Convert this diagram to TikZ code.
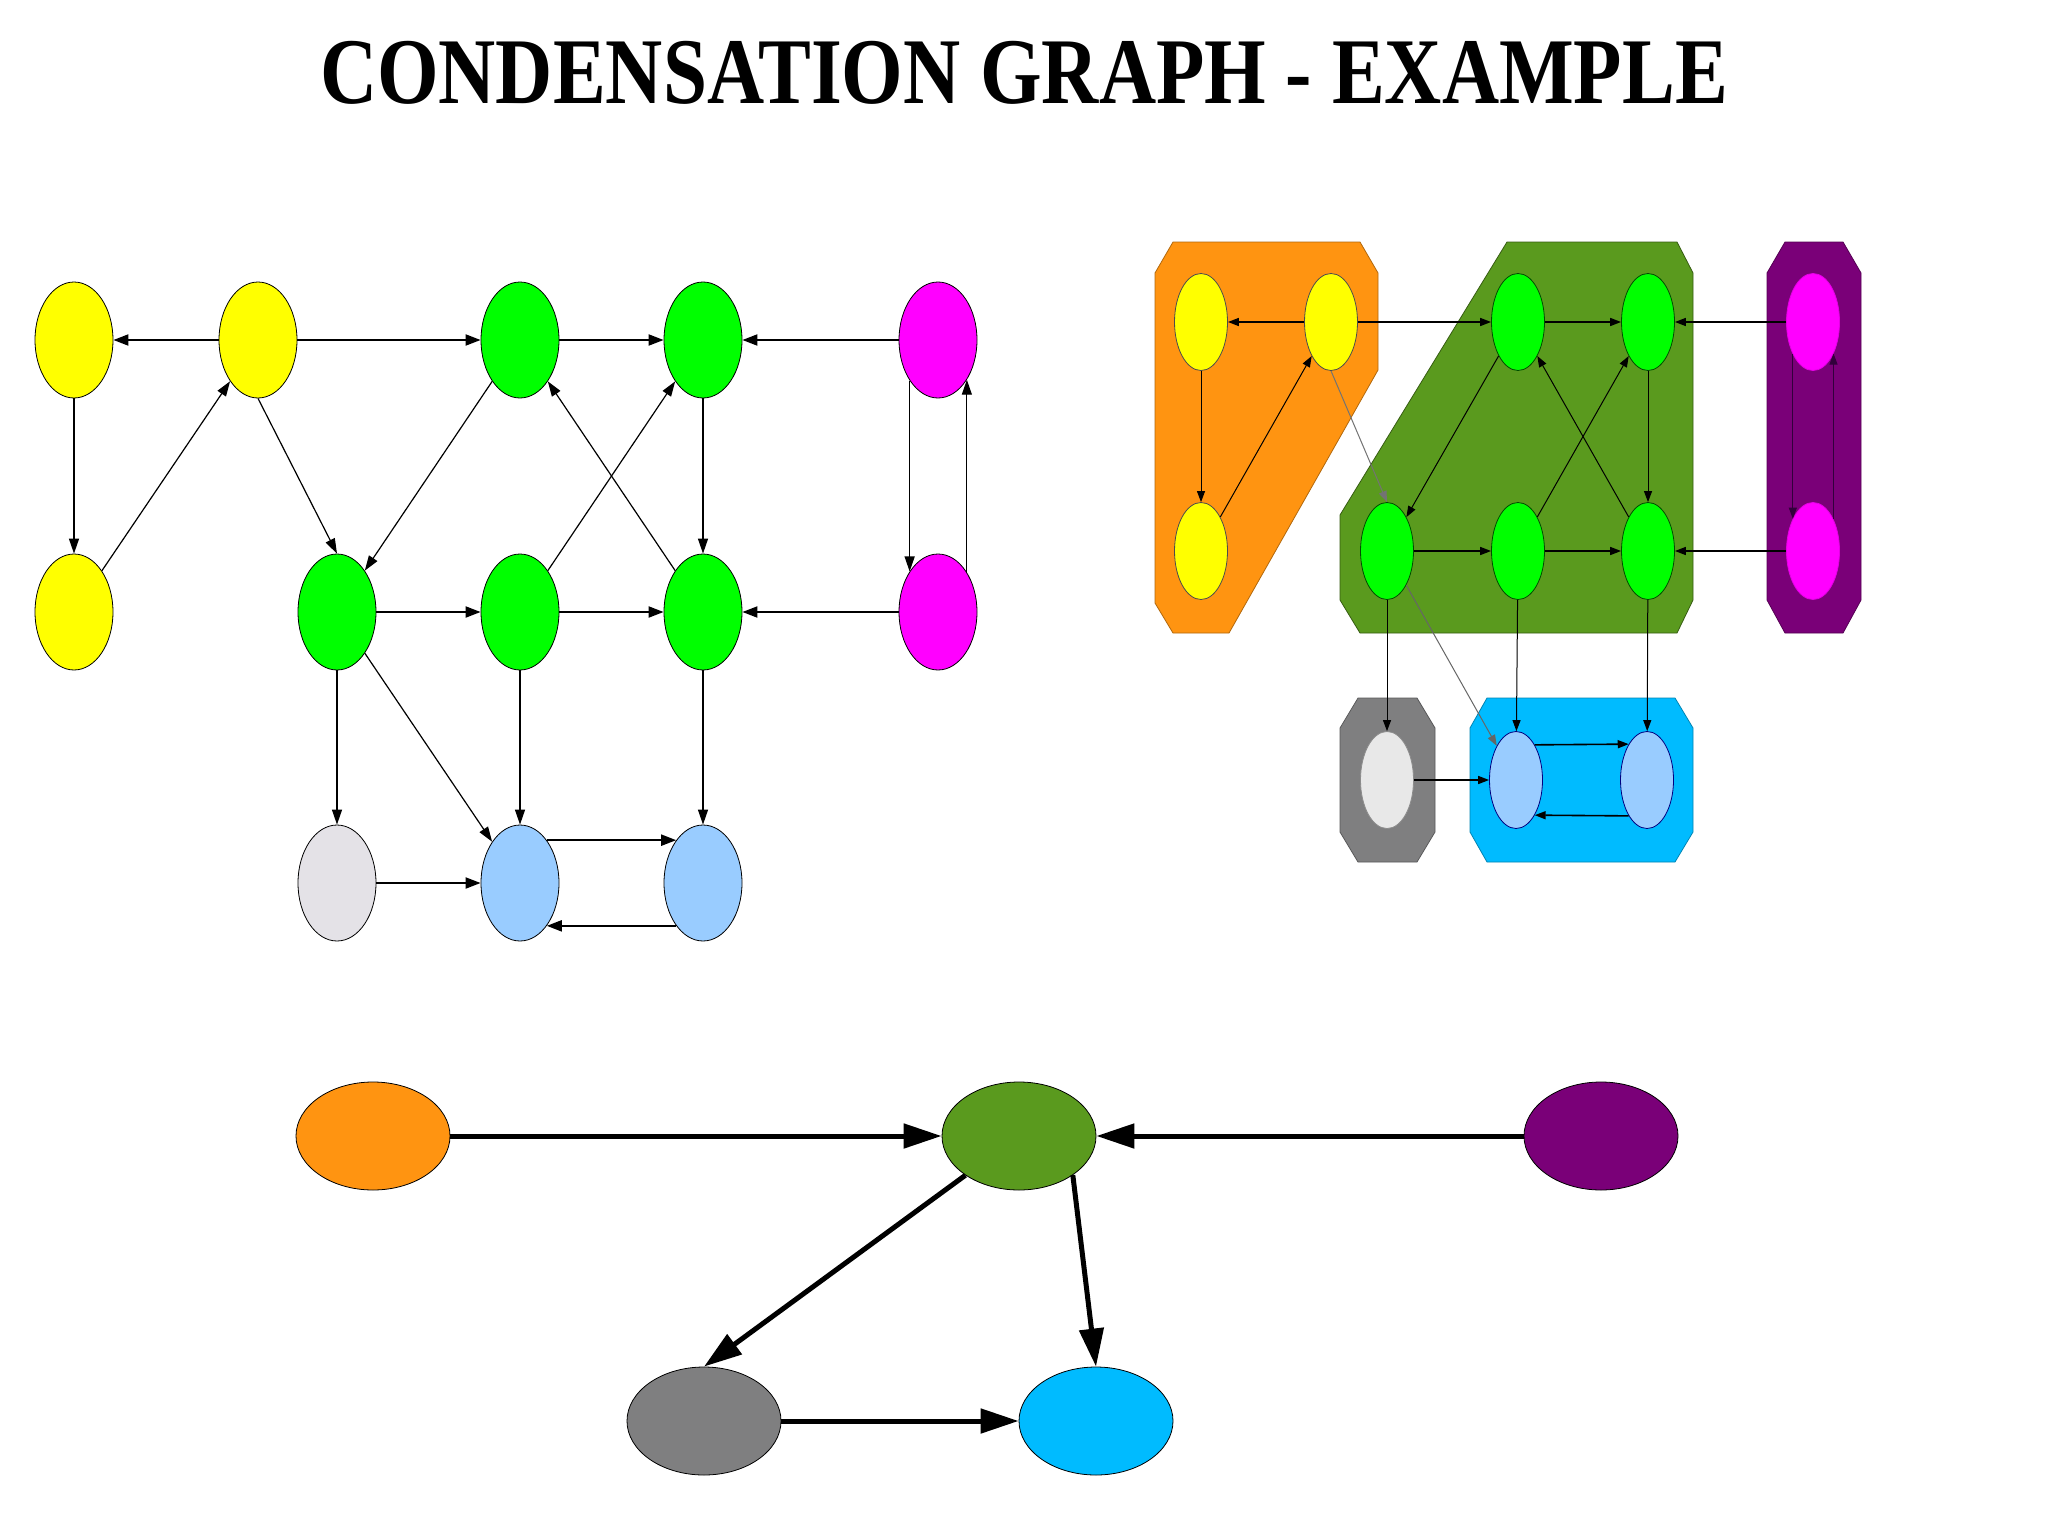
\documentclass[tikz,border=0pt]{standalone}
\usepackage{fontspec}
\usepackage{graphicx}
\setmainfont{Liberation Serif}
\usetikzlibrary{arrows.meta,shapes.geometric}
\definecolor{cyel}{RGB}{255,255,0}
\definecolor{cgrn}{RGB}{0,255,0}
\definecolor{cmag}{RGB}{255,0,255}
\definecolor{clgr}{RGB}{228,226,231}
\definecolor{clbl}{RGB}{153,204,255}
\definecolor{corg}{RGB}{255,148,17}
\definecolor{cdgr}{RGB}{90,154,30}
\definecolor{cpur}{RGB}{122,0,120}
\definecolor{cgry}{RGB}{127,127,128}
\definecolor{csky}{RGB}{0,187,255}
\definecolor{cpln}{RGB}{50,0,60}
\tikzset{
  lnode/.style={ellipse, draw=black, line width=0.8pt, inner sep=0pt, minimum width=78pt, minimum height=116pt},
  rnode/.style={ellipse, line width=0.8pt, inner sep=0pt, minimum width=53pt, minimum height=97pt},
  bnode/.style={ellipse, draw=black, line width=0.8pt, inner sep=0pt, minimum width=154pt, minimum height=108pt},
  ledge/.style={-{Triangle[length=15pt,width=10pt]}, line width=1.2pt},
  ledgeh/.style={-{Triangle[length=15pt,width=11pt]}, line width=2pt},
  redge/.style={-{Triangle[length=11pt,width=8pt]}, line width=1pt},
  redgeh/.style={-{Triangle[length=11pt,width=8pt]}, line width=1.6pt},
  bedge/.style={-{Triangle[length=38pt,width=24pt]}, line width=5pt},
  clus/.style={line width=0.8pt},
}
\begin{document}
\begin{tikzpicture}[x=1pt,y=-1pt]
\useasboundingbox[fill=white] (0,0) rectangle (2048,1536);
% title
\node[anchor=base, inner sep=0pt] (title) at (1024,104) {\scalebox{0.842}[1]{\fontsize{94}{94}\selectfont\bfseries CONDENSATION GRAPH - EXAMPLE}};

% ---------------- left graph ----------------
\node[lnode, fill=cyel] (lY1) at (74,340) {};
\node[lnode, fill=cyel] (lY2) at (258,340) {};
\node[lnode, fill=cgrn] (lG1) at (520,340) {};
\node[lnode, fill=cgrn] (lG2) at (703,340) {};
\node[lnode, fill=cmag] (lM1) at (938,340) {};
\node[lnode, fill=cyel] (lY3) at (74,612) {};
\node[lnode, fill=cgrn] (lG4) at (337,612) {};
\node[lnode, fill=cgrn] (lG5) at (520,612) {};
\node[lnode, fill=cgrn] (lG6) at (703,612) {};
\node[lnode, fill=cmag] (lM2) at (938,612) {};
\node[lnode, fill=clgr] (lGR) at (337,883) {};
\node[lnode, fill=clbl] (lB1) at (520,883) {};
\node[lnode, fill=clbl] (lB2) at (703,883) {};

\draw[ledgeh] (lY2) -- (lY1);
\draw[ledgeh] (lY2) -- (lG1);
\draw[ledgeh] (lG1) -- (lG2);
\draw[ledgeh] (lM1) -- (lG2);
\draw[ledge] (lY1) -- (lY3);
\draw[ledge] (lY3) -- (lY2);
\draw[ledge] (lY2.south) -- (lG4.north);
\draw[ledge] (lG1) -- (lG4);
\draw[ledge] (lG5) -- (lG2);
\draw[ledge] (lG6) -- (lG1);
\draw[ledge] (lG2) -- (lG6);
\draw[ledge] (lM1.-125.7) -- (lM2.125.7);
\draw[ledge] (lM2.54.3) -- (lM1.-54.3);
\draw[ledgeh] (lG4) -- (lG5);
\draw[ledgeh] (lG5) -- (lG6);
\draw[ledgeh] (lM2) -- (lG6);
\draw[ledge] (lG4) -- (lGR);
\draw[ledge] (lG4) -- (lB1);
\draw[ledge] (lG5) -- (lB1);
\draw[ledge] (lG6) -- (lB2);
\draw[ledgeh] (lGR) -- (lB1);
\draw[ledgeh] (lB1.58) -- (lB2.122);
\draw[ledgeh] (lB2.-122) -- (lB1.-58);

% ---------------- right graph: clusters ----------------
\fill[corg, draw=corg!70!black, clus] (1173,242) -- (1360,242) -- (1378,273) -- (1378,370) -- (1229,633) -- (1173,633) -- (1155,603) -- (1155,273) -- cycle;
\fill[cdgr, draw=cdgr!60!black, clus] (1507,242) -- (1677,242) -- (1693,273) -- (1693,600) -- (1677,633) -- (1360,633) -- (1340,600) -- (1340,515) -- cycle;
\fill[cpur, draw=cpur!70!black, clus] (1785,242) -- (1843,242) -- (1861,273) -- (1861,600) -- (1843,633) -- (1785,633) -- (1767,600) -- (1767,273) -- cycle;
\fill[cgry, draw=cgry!70!black, clus] (1358,698) -- (1417,698) -- (1435,728) -- (1435,832) -- (1417,862) -- (1358,862) -- (1340,832) -- (1340,728) -- cycle;
\fill[csky, draw=csky!70!black, clus] (1487,698) -- (1675,698) -- (1693,728) -- (1693,832) -- (1675,862) -- (1487,862) -- (1470,832) -- (1470,728) -- cycle;

% right graph nodes
\node[rnode, fill=cyel, draw=black!70] (rY1) at (1201,322) {};
\node[rnode, fill=cyel, draw=black!70] (rY2) at (1331,322) {};
\node[rnode, fill=cyel, draw=black!70] (rY3) at (1201,551) {};
\node[rnode, fill=cgrn, draw=green!30!black] (rG1) at (1518,322) {};
\node[rnode, fill=cgrn, draw=green!30!black] (rG2) at (1648,322) {};
\node[rnode, fill=cgrn, draw=green!30!black] (rG4) at (1387,551) {};
\node[rnode, fill=cgrn, draw=green!30!black] (rG5) at (1518,551) {};
\node[rnode, fill=cgrn, draw=green!30!black] (rG6) at (1648,551) {};
\node[rnode, fill=cmag, draw=cmag!80!cpur] (rM1) at (1813,322) {};
\node[rnode, fill=cmag, draw=cmag!80!cpur] (rM2) at (1813,551) {};
\node[rnode, fill=black!9, draw=black!45] (rGR) at (1387,780) {};
\node[rnode, fill=clbl, draw=blue!50!black] (rB1) at (1516,780) {};
\node[rnode, fill=clbl, draw=blue!50!black] (rB2) at (1647,780) {};

\draw[redgeh] (rY2) -- (rY1);
\draw[redgeh] (rY2) -- (rG1);
\draw[redgeh] (rG1) -- (rG2);
\draw[redgeh] (rM1) -- (rG2);
\draw[redge] (rY1) -- (rY3);
\draw[redge] (rY3) -- (rY2);
\draw[redge, draw=black!55] (rY2.south) -- (rG4.north);
\draw[redge] (rG1) -- (rG4);
\draw[redge] (rG5) -- (rG2);
\draw[redge] (rG6) -- (rG1);
\draw[redge] (rG2) -- (rG6);
\draw[redge, draw=cpln, fill=cpln] (rM1.-122.2) -- (rM2.122.2);
\draw[redge, draw=cpln, fill=cpln] (rM2.57.8) -- (rM1.-57.8);
\draw[redgeh] (rG4) -- (rG5);
\draw[redgeh] (rG5) -- (rG6);
\draw[redgeh] (rM2) -- (rG6);
\draw[redge] (rG4) -- (rGR);
\draw[redge, draw=black!60] (rG4) -- (rB1);
\draw[redge] (rG5) -- (rB1);
\draw[redge] (rG6) -- (rB2);
\draw[redgeh] (rGR) -- (rB1);
\draw[redgeh] (rB1.62.4) -- (rB2.117.6);
\draw[redgeh] (rB2.-117.6) -- (rB1.-62.4);

% ---------------- bottom graph ----------------
\node[bnode, fill=corg] (bO) at (373,1136) {};
\node[bnode, fill=cdgr] (bG) at (1019,1136) {};
\node[bnode, fill=cpur] (bP) at (1601,1136) {};
\node[bnode, fill=cgry] (bGR) at (704,1421) {};
\node[bnode, fill=csky] (bB) at (1096,1421) {};

\draw[bedge] (bO) -- (bG);
\draw[bedge] (bP) -- (bG);
\draw[bedge] (bG) -- (bGR.north);
\draw[bedge] (bG.-36) -- (bB.north);
\draw[bedge] (bGR) -- (bB);
\end{tikzpicture}
\end{document}
